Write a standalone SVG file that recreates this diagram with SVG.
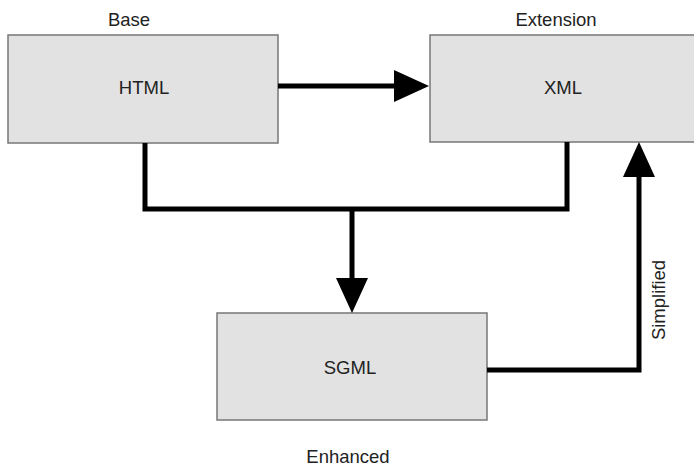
<svg xmlns="http://www.w3.org/2000/svg" width="694" height="469" viewBox="0 0 694 469">
<style>
.box{fill:#e2e2e2;stroke:#777;stroke-width:1.5}
.t{font-family:"Liberation Sans",Arial,sans-serif;font-size:18.5px;fill:#222;text-anchor:middle}
.c{fill:none;stroke:#000;stroke-width:5;stroke-linejoin:miter}
</style>
<defs>
<marker id="ah" markerUnits="userSpaceOnUse" markerWidth="36" markerHeight="32" viewBox="0 0 36 32" refX="1" refY="16" orient="auto">
<path d="M0,0 L35,16 L0,32 z" fill="#000"/>
</marker>
</defs>
<rect width="694" height="469" fill="#fff"/>
<g id="html">
<rect class="box" x="8" y="35" width="270" height="108"/>
<text class="t" x="129" y="26">Base</text>
<text class="t" x="144" y="94">HTML</text>
</g>
<g id="xml">
<rect class="box" x="430" y="35" width="270" height="107"/>
<text class="t" x="556" y="26">Extension</text>
<text class="t" x="563" y="94">XML</text>
</g>
<g id="sgml">
<rect class="box" x="217" y="313" width="270" height="107"/>
<text class="t" x="350" y="374">SGML</text>
<text class="t" x="348" y="463">Enhanced</text>
</g>
<g id="connectors">
<path class="c" d="M278,86 H395" marker-end="url(#ah)"/>
<path class="c" d="M145,143 V209 H567 V142"/>
<path class="c" d="M352,209 V279" marker-end="url(#ah)"/>
<path class="c" d="M487,370 H639 V176" marker-end="url(#ah)"/>
<text class="t" transform="translate(665,300) rotate(-90)">Simplified</text>
</g>
</svg>
